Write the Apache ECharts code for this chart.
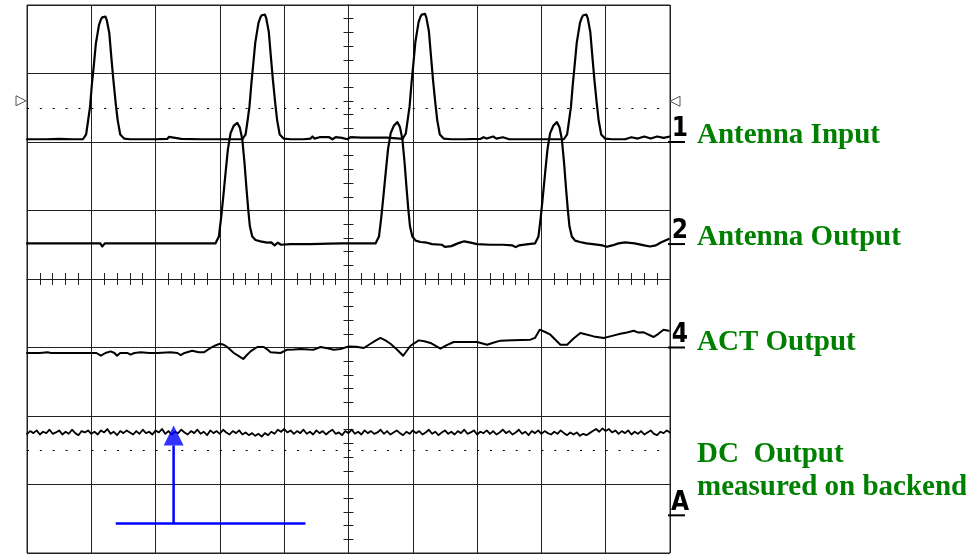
<!DOCTYPE html>
<html><head><meta charset="utf-8">
<script src="https://cdn.jsdelivr.net/npm/echarts@6/dist/echarts.min.js"></script>
<style>html,body{margin:0;padding:0;background:#fff}#c{width:966px;height:555px}</style>
</head><body><div id="c"></div>
<script>
// Oscilloscope screen: x in divisions (-5..5), y in divisions (-4..4)
const ch1 = [
[-5.0,2.04],[-4.7,2.04],[-4.5,2.045],[-4.3,2.04],[-4.13,2.04],
[-4.08,2.11],[-4.05,2.31],[-4.02,2.51],[-3.99,2.85],[-3.965,3.08],[-3.93,3.43],[-3.88,3.71],[-3.85,3.79],[-3.83,3.82],[-3.80,3.84],[-3.78,3.83],[-3.76,3.78],[-3.72,3.59],[-3.685,3.20],[-3.655,2.89],[-3.62,2.56],[-3.59,2.32],[-3.55,2.11],[-3.49,2.05],
[-3.4,2.04],[-3.0,2.04],[-2.82,2.045],[-2.79,2.075],[-2.76,2.05],[-2.6,2.045],[-2.3,2.04],[-2.0,2.04],[-1.8,2.04],[-1.65,2.04],
[-1.60,2.11],[-1.57,2.31],[-1.54,2.52],[-1.51,2.86],[-1.485,3.10],[-1.45,3.45],[-1.40,3.74],[-1.37,3.82],[-1.35,3.85],[-1.32,3.87],[-1.30,3.86],[-1.28,3.81],[-1.24,3.61],[-1.205,3.22],[-1.175,2.90],[-1.14,2.57],[-1.11,2.32],[-1.07,2.11],[-1.01,2.05],
[-0.9,2.04],[-0.7,2.04],[-0.59,2.05],[-0.56,2.08],[-0.53,2.05],[-0.45,2.07],[-0.3,2.07],[-0.25,2.04],[-0.2,2.07],[-0.1,2.06],[-0.02,2.04],[0.03,2.07],[0.2,2.065],[0.4,2.065],[0.6,2.065],[0.8,2.05],[0.84,2.045],
[0.89,2.12],[0.92,2.32],[0.95,2.52],[0.98,2.86],[1.005,3.10],[1.04,3.46],[1.09,3.75],[1.12,3.83],[1.14,3.86],[1.17,3.88],[1.19,3.87],[1.21,3.82],[1.25,3.62],[1.285,3.23],[1.315,2.90],[1.35,2.57],[1.38,2.32],[1.42,2.11],[1.48,2.05],
[1.6,2.04],[1.8,2.04],[2.05,2.045],[2.1,2.07],[2.15,2.05],[2.25,2.08],[2.3,2.05],[2.4,2.07],[2.5,2.04],[2.8,2.04],[3.1,2.04],[3.35,2.04],
[3.40,2.11],[3.43,2.31],[3.46,2.52],[3.49,2.86],[3.515,3.10],[3.55,3.45],[3.60,3.74],[3.63,3.82],[3.65,3.85],[3.68,3.87],[3.70,3.86],[3.72,3.81],[3.76,3.61],[3.795,3.22],[3.825,2.90],[3.86,2.57],[3.89,2.32],[3.93,2.11],[3.99,2.05],
[4.1,2.04],[4.3,2.04],[4.4,2.07],[4.5,2.05],[4.6,2.08],[4.7,2.05],[4.8,2.08],[4.9,2.06],[5.0,2.08]
];
const ch2 = [
[-5.0,0.52],[-4.5,0.52],[-4.0,0.52],[-3.86,0.52],[-3.83,0.475],[-3.79,0.52],[-3.5,0.52],[-3.0,0.52],[-2.5,0.52],[-2.2,0.52],[-2.07,0.52],
[-2.016,0.62],[-1.979,0.91],[-1.948,1.20],[-1.912,1.55],[-1.876,1.89],[-1.834,2.13],[-1.783,2.24],[-1.73,2.28],[-1.69,2.21],[-1.652,2.04],[-1.617,1.69],[-1.585,1.30],[-1.559,1.01],[-1.534,0.77],[-1.497,0.62],[-1.446,0.57],[-1.368,0.55],[-1.264,0.53],
[-1.2,0.535],[-1.15,0.49],[-1.1,0.53],[-1.05,0.50],[-0.9,0.51],[-0.6,0.51],[-0.3,0.515],[-0.1,0.52],[0.1,0.52],[0.3,0.52],[0.42,0.52],
[0.474,0.62],[0.511,0.91],[0.542,1.20],[0.578,1.55],[0.614,1.89],[0.656,2.13],[0.707,2.24],[0.76,2.29],[0.80,2.22],[0.838,2.04],[0.873,1.69],[0.905,1.30],[0.931,1.01],[0.956,0.77],[0.993,0.62],[1.044,0.56],[1.12,0.54],[1.22,0.53],
[1.3,0.51],[1.45,0.50],[1.5,0.47],[1.6,0.48],[1.7,0.52],[1.8,0.55],[1.9,0.53],[2.0,0.51],[2.2,0.50],[2.4,0.50],[2.55,0.49],[2.6,0.465],[2.65,0.49],[2.8,0.51],[2.90,0.52],
[2.954,0.62],[2.991,0.91],[3.022,1.20],[3.058,1.55],[3.094,1.89],[3.136,2.13],[3.187,2.24],[3.24,2.29],[3.28,2.22],[3.318,2.04],[3.353,1.69],[3.385,1.30],[3.411,1.01],[3.436,0.77],[3.473,0.62],[3.524,0.56],[3.60,0.54],[3.70,0.52],
[3.8,0.51],[3.95,0.49],[4.02,0.47],[4.1,0.49],[4.2,0.52],[4.3,0.535],[4.45,0.52],[4.6,0.49],[4.69,0.475],[4.78,0.49],[4.85,0.53],[4.9,0.55],[4.98,0.585]
];
const ch4 = [
[-5.0,-1.08],[-4.80,-1.08],[-4.68,-1.07],[-4.66,-1.047],[-4.63,-1.08],[-4.37,-1.08],[-4.10,-1.08],[-3.92,-1.08],[-3.90,-1.105],[-3.85,-1.12],[-3.78,-1.08],[-3.70,-1.057],[-3.64,-1.08],[-3.60,-1.12],[-3.55,-1.08],[-3.44,-1.08],[-3.39,-1.105],[-3.33,-1.08],[-3.23,-1.07],[-3.10,-1.08],[-2.97,-1.08],[-2.77,-1.07],[-2.66,-1.08],[-2.61,-1.11],[-2.55,-1.08],[-2.43,-1.047],[-2.33,-1.07],[-2.25,-1.07],[-2.145,-1.007],[-2.07,-0.97],[-2.00,-0.945],[-1.94,-0.96],[-1.886,-0.993],[-1.783,-1.08],[-1.70,-1.13],[-1.637,-1.168],[-1.58,-1.11],[-1.523,-1.057],[-1.419,-0.993],[-1.317,-0.993],[-1.26,-1.03],[-1.212,-1.07],[-1.057,-1.08],[-0.953,-1.032],[-0.85,-1.03],[-0.746,-1.022],[-0.62,-1.03],[-0.539,-1.032],[-0.435,-0.993],[-0.33,-1.01],[-0.228,-1.032],[-0.124,-1.022],[0.005,-0.984],[0.12,-0.99],[0.238,-1.007],[0.342,-0.945],[0.42,-0.90],[0.497,-0.861],[0.58,-0.90],[0.653,-0.945],[0.757,-1.032],[0.85,-1.12],[0.964,-0.974],[1.093,-0.896],[1.18,-0.91],[1.275,-0.934],[1.43,-1.018],[1.52,-0.97],[1.637,-0.92],[1.80,-0.92],[2.0,-0.92],[2.156,-0.959],[2.25,-0.93],[2.363,-0.90],[2.55,-0.895],[2.70,-0.89],[2.83,-0.886],[2.90,-0.86],[2.974,-0.74],[3.05,-0.77],[3.14,-0.813],[3.296,-0.959],[3.40,-0.959],[3.50,-0.87],[3.606,-0.788],[3.70,-0.81],[3.813,-0.838],[3.969,-0.861],[4.10,-0.83],[4.228,-0.799],[4.33,-0.78],[4.435,-0.755],[4.50,-0.78],[4.59,-0.779],[4.746,-0.847],[4.82,-0.80],[4.90,-0.74],[4.98,-0.755]
];
// DC output samples, one every dcStep divisions starting at dcStart
const dcStart = -5, dcStep = 0.05;
const dcValues = [
-2.26,-2.22,-2.25,-2.21,-2.27,-2.23,-2.25,-2.20,-2.26,-2.24,
-2.21,-2.27,-2.23,-2.26,-2.20,-2.25,-2.28,-2.22,-2.24,-2.21,
-2.26,-2.23,-2.27,-2.21,-2.24,-2.19,-2.26,-2.23,-2.28,-2.22,
-2.25,-2.21,-2.24,-2.27,-2.22,-2.26,-2.20,-2.25,-2.23,-2.27,
-2.21,-2.24,-2.19,-2.26,-2.22,-2.27,-2.23,-2.25,-2.20,-2.24,
-2.27,-2.22,-2.25,-2.20,-2.26,-2.23,-2.28,-2.21,-2.25,-2.22,
-2.26,-2.20,-2.24,-2.27,-2.22,-2.25,-2.21,-2.27,-2.24,-2.28,
-2.25,-2.29,-2.26,-2.30,-2.25,-2.28,-2.23,-2.26,-2.20,-2.23,
-2.19,-2.24,-2.21,-2.26,-2.22,-2.25,-2.20,-2.26,-2.23,-2.27,
-2.21,-2.25,-2.22,-2.27,-2.23,-2.20,-2.26,-2.24,-2.28,-2.22,
-2.25,-2.20,-2.26,-2.23,-2.27,-2.21,-2.25,-2.22,-2.26,-2.24,
-2.20,-2.26,-2.22,-2.27,-2.24,-2.21,-2.25,-2.28,-2.23,-2.26,
-2.21,-2.25,-2.22,-2.27,-2.24,-2.20,-2.26,-2.23,-2.28,-2.24,
-2.21,-2.26,-2.23,-2.27,-2.22,-2.25,-2.20,-2.26,-2.24,-2.21,
-2.27,-2.23,-2.25,-2.21,-2.26,-2.22,-2.27,-2.24,-2.20,-2.25,
-2.22,-2.27,-2.24,-2.20,-2.26,-2.23,-2.28,-2.22,-2.25,-2.21,
-2.26,-2.22,-2.25,-2.27,-2.23,-2.26,-2.21,-2.25,-2.28,-2.24,
-2.27,-2.24,-2.29,-2.26,-2.28,-2.25,-2.22,-2.19,-2.23,-2.18,
-2.22,-2.19,-2.24,-2.21,-2.26,-2.22,-2.25,-2.21,-2.27,-2.23,
-2.26,-2.22,-2.27,-2.24,-2.21,-2.26,-2.28,-2.23,-2.25,-2.21,
-2.24
];
const triggerLevels = [2.5, -2.5];
const arrowBase = [[-3.62,-3.57],[-0.67,-3.57]];
const arrowShaft = [[-2.72,-3.57],[-2.72,-2.43]];
const arrowHead = [[-2.72,-2.285]];
const chMarkers = [
  {label:'1', level:2.0},
  {label:'2', level:0.51},
  {label:'4', level:-1.0},
  {label:'A', level:-3.45}
];
const chTitles = [
  {text:'Antenna Input', y:135.5},
  {text:'Antenna Output', y:237.8},
  {text:'ACT Output', y:342.8},
  {text:'DC  Output', y:454.2},
  {text:'measured on backend', y:487.8}
];

const dc = dcValues.map((v,i)=>[dcStart + i*dcStep, v]);
const GRID = '#222';

function xAx(pos, split){
  return {type:'value', min:-5, max:5, interval:1, position:pos,
    axisLine:{show:true,onZero:true,onZeroAxisIndex:0,lineStyle:{color:GRID,width:1}},
    axisTick:{show:true,length:6,lineStyle:{color:GRID,width:1}},
    minorTick:{show:true,splitNumber:5,length:6,lineStyle:{color:GRID,width:1}},
    splitLine:{show:split,lineStyle:{color:GRID,width:1}},
    minorSplitLine:{show:false},
    axisLabel:{show:false}};
}
function yAx(pos, split){
  return {type:'value', min:-4, max:4, interval:1, position:pos,
    axisLine:{show:true,onZero:true,onZeroAxisIndex:0,lineStyle:{color:GRID,width:1}},
    axisTick:{show:true,length:5,lineStyle:{color:GRID,width:1}},
    minorTick:{show:true,splitNumber:5,length:5,lineStyle:{color:GRID,width:1}},
    splitLine:{show:split,lineStyle:{color:GRID,width:1}},
    minorSplitLine:{show:false},
    axisLabel:{show:false}};
}
function trace(name, data, w){
  return {name, type:'line', data, showSymbol:false, symbol:'none', silent:true,
    lineStyle:{color:'#000', width:w, join:'round', cap:'round'}, z:3};
}

const option = {
  animation:false,
  backgroundColor:'#fff',
  grid:{left:27, top:5, width:643, height:548, show:true, borderColor:GRID, borderWidth:1, backgroundColor:'transparent'},
  xAxis:[xAx('bottom', true), xAx('top', false)],
  yAxis:[yAx('left', true), yAx('right', false)],
  series:[
    Object.assign(trace('Antenna Input', ch1, 2.2), {
      markLine:{silent:true, symbol:'none', label:{show:false},
        lineStyle:{color:'#000', width:1, type:[2,10.86]},
        data: triggerLevels.map(v=>({yAxis:v}))},
      markPoint:{silent:true, label:{show:false},
        itemStyle:{color:'#fff', borderColor:'#555', borderWidth:1},
        data:[
          {coord:[-5, triggerLevels[0]], symbol:'path://M0,0L10,5L0,10Z', symbolSize:[10,10], symbolOffset:[-6,-7]},
          {coord:[5, triggerLevels[0]], symbol:'path://M10,0L0,5L10,10Z', symbolSize:[10,10], symbolOffset:[5,-6.5]}
        ]}
    }),
    trace('Antenna Output', ch2, 2.2),
    trace('ACT Output', ch4, 2.0),
    trace('DC Output', dc, 1.8),
    {type:'line', data:arrowBase, showSymbol:false, symbol:'none', silent:true, lineStyle:{color:'#0000ff', width:2.5}, z:4},
    {type:'line', data:arrowShaft, showSymbol:false, symbol:'none', silent:true, lineStyle:{color:'#0000ff', width:2.5}, z:4},
    {type:'scatter', data:arrowHead, symbol:'triangle', symbolSize:[20,20], silent:true, itemStyle:{color:'#0000ff'}, z:4}
  ]
};

const chart = echarts.init(document.getElementById('c'), null, {renderer:'canvas'});
chart.setOption(option);

const gfx = [];
chMarkers.forEach(m=>{
  const p = chart.convertToPixel({xAxisIndex:0, yAxisIndex:0}, [5, m.level]);
  gfx.push({type:'line', silent:true, shape:{x1:p[0]-2, y1:p[1], x2:p[0]+15, y2:p[1]}, style:{stroke:'#000', lineWidth:2}});
  gfx.push({type:'text', silent:true, x:p[0]+10, y:p[1]-12.5,
    style:{text:m.label, font:'bold 26px "Liberation Sans Narrow", "DejaVu Sans Condensed", sans-serif', fill:'#000',
      align:'center', textAlign:'center', verticalAlign:'middle', textVerticalAlign:'middle'}});
});
chTitles.forEach(t=>{
  gfx.push({type:'text', silent:true, x:697, y:t.y,
    style:{text:t.text, font:'bold 29px "Liberation Serif", "Times New Roman", serif', fill:'#008000',
      align:'left', textAlign:'left', verticalAlign:'middle', textVerticalAlign:'middle'}});
});
chart.setOption({graphic:{elements:gfx}});
</script>
</body></html>
